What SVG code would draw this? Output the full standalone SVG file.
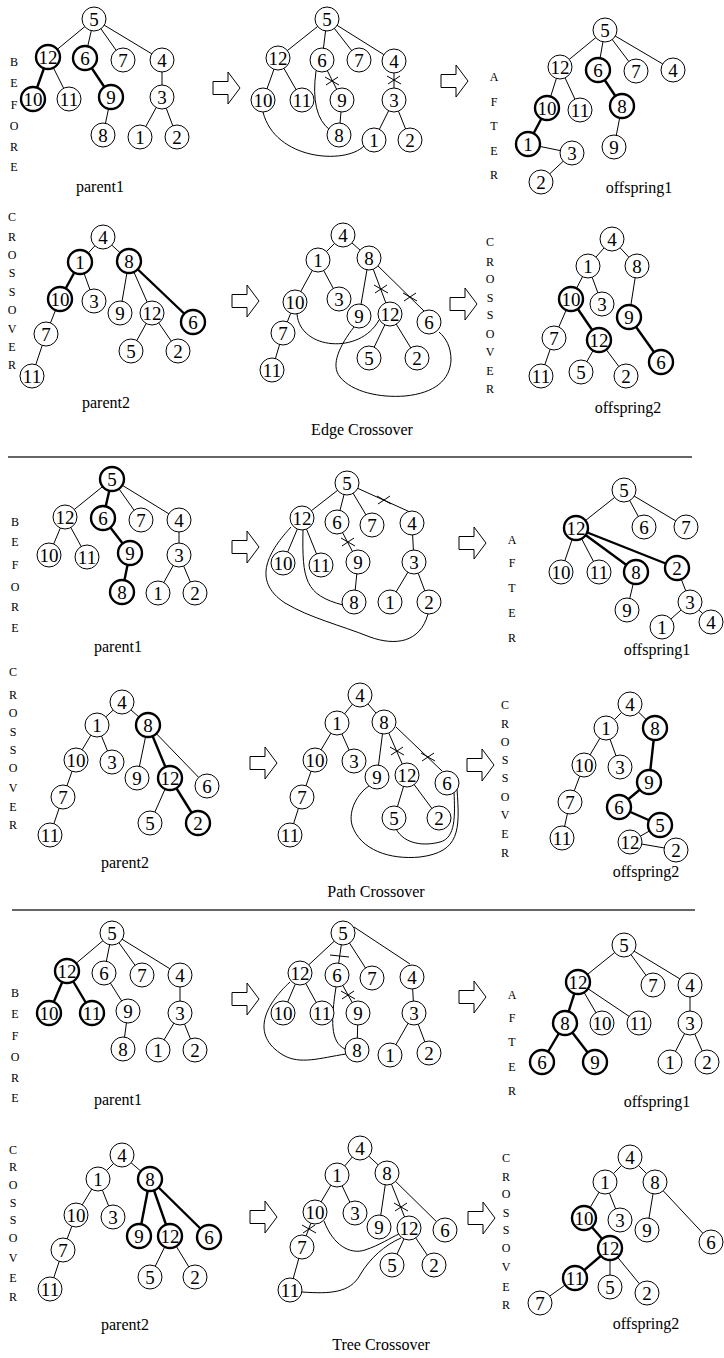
<svg xmlns="http://www.w3.org/2000/svg" xmlns:xlink="http://www.w3.org/1999/xlink" width="724" height="1358" viewBox="0 0 724 1358">
<style>
circle{fill:#fff;stroke:#000;stroke-width:1}
.b circle{stroke-width:2.4}
text{font-family:"Liberation Serif","Times New Roman",serif;fill:#000}
.n text{font-size:19px;text-anchor:middle;transform:translateY(1px)}
.c line,.c path{stroke:#000;stroke-width:1;fill:none}
.c .bl{stroke-width:2.4}
.lt{font-size:12px;text-anchor:middle}
.lab{font-size:16px;text-anchor:middle}
.sep{stroke:#333;stroke-width:1.3}
</style>
<defs>
<path id="arrow" d="M0,-6.5 H15 V-16 L27,0 L15,16 V6.5 H0 Z" fill="#fff" stroke="#000" stroke-width="1"/>
<path id="xm" d="M-7,-4 L7,4 M-6,4 L6,-4" fill="none" stroke="#000" stroke-width="1"/>
</defs>
<rect width="724" height="1358" fill="#fff"/>
<line class="sep" x1="8" y1="457" x2="692" y2="457"/>
<line class="sep" x1="12" y1="910" x2="695" y2="910"/>
<g id="arrows">
<use xlink:href="#arrow" transform="translate(213,88)"/>
<use xlink:href="#arrow" transform="translate(441,81)"/>
<use xlink:href="#arrow" transform="translate(232,301)"/>
<use xlink:href="#arrow" transform="translate(450,304)"/>
<use xlink:href="#arrow" transform="translate(232,547)"/>
<use xlink:href="#arrow" transform="translate(459,543)"/>
<use xlink:href="#arrow" transform="translate(250,763)"/>
<use xlink:href="#arrow" transform="translate(467,765)"/>
<use xlink:href="#arrow" transform="translate(232,999)"/>
<use xlink:href="#arrow" transform="translate(459,997)"/>
<use xlink:href="#arrow" transform="translate(250,1217)"/>
<use xlink:href="#arrow" transform="translate(468,1218)"/>
</g>
<g id="connectors" class="c">
<line x1="94" y1="19" x2="48" y2="57"/><line x1="94" y1="19" x2="85" y2="58"/><line x1="94" y1="19" x2="123" y2="60"/><line x1="94" y1="19" x2="162" y2="60"/>
<line class="bl" x1="48" y1="57" x2="33" y2="99"/><line x1="48" y1="57" x2="69" y2="99"/><line class="bl" x1="85" y1="58" x2="111" y2="97"/><line x1="111" y1="97" x2="103" y2="135"/>
<line x1="162" y1="60" x2="162" y2="97"/><line x1="162" y1="97" x2="140" y2="137"/><line x1="162" y1="97" x2="177" y2="137"/>
<line x1="327" y1="19" x2="278" y2="58"/><line x1="327" y1="19" x2="322" y2="60"/><line x1="327" y1="19" x2="359" y2="60"/><line x1="327" y1="19" x2="394" y2="61"/>
<line x1="278" y1="58" x2="263" y2="100"/><line x1="278" y1="58" x2="302" y2="100"/><line x1="322" y1="60" x2="342" y2="100"/><line x1="342" y1="100" x2="339" y2="135"/>
<line x1="394" y1="61" x2="394" y2="100"/><line x1="394" y1="100" x2="374" y2="140"/><line x1="394" y1="100" x2="410" y2="140"/>
<path d="M263,112 C275,160 345,165 364,146"/>
<path d="M316,71 Q310,115 330,130"/>
<use xlink:href="#xm" x="332" y="81"/><use xlink:href="#xm" x="394" y="80"/>
<line x1="605" y1="30" x2="560" y2="67"/><line x1="605" y1="30" x2="598" y2="70"/><line x1="605" y1="30" x2="636" y2="71"/><line x1="605" y1="30" x2="673" y2="70"/>
<line x1="560" y1="67" x2="547" y2="108"/><line x1="560" y1="67" x2="580" y2="110"/><line class="bl" x1="598" y1="70" x2="622" y2="106"/><line x1="622" y1="106" x2="614" y2="147"/>
<line class="bl" x1="547" y1="108" x2="528" y2="144"/><line x1="528" y1="144" x2="572" y2="153"/><line x1="572" y1="153" x2="541" y2="182"/>
<line x1="103" y1="237" x2="80" y2="262"/><line x1="103" y1="237" x2="129" y2="261"/><line class="bl" x1="80" y1="262" x2="60" y2="299"/><line x1="80" y1="262" x2="94" y2="301"/>
<line x1="129" y1="261" x2="120" y2="313"/><line x1="129" y1="261" x2="152" y2="313"/><line class="bl" x1="129" y1="261" x2="193" y2="322"/>
<line x1="60" y1="299" x2="46" y2="334"/><line x1="46" y1="334" x2="32" y2="376"/><line x1="152" y1="313" x2="131" y2="351"/><line x1="152" y1="313" x2="178" y2="351"/>
<line x1="343" y1="235" x2="318" y2="260"/><line x1="343" y1="235" x2="369" y2="258"/><line x1="318" y1="260" x2="295" y2="302"/><line x1="318" y1="260" x2="339" y2="299"/>
<line x1="369" y1="258" x2="359" y2="316"/><line x1="369" y1="258" x2="390" y2="314"/><line x1="376" y1="264" x2="424" y2="311"/>
<line x1="295" y1="302" x2="283" y2="333"/><line x1="283" y1="333" x2="272" y2="370"/><line x1="390" y1="314" x2="369" y2="358"/><line x1="390" y1="314" x2="417" y2="358"/>
<path d="M297,314 C300,350 360,355 379,320"/>
<path d="M354,327 C340,345 330,365 340,377 C352,392 380,398 405,396 C435,393 450,380 451,360 C451,347 446,338 439,332"/>
<use xlink:href="#xm" x="381" y="289"/><use xlink:href="#xm" x="410" y="297"/>
<line x1="612" y1="239" x2="588" y2="266"/><line x1="612" y1="239" x2="637" y2="266"/><line x1="588" y1="266" x2="571" y2="299"/><line x1="588" y1="266" x2="602" y2="304"/>
<line x1="637" y1="266" x2="629" y2="317"/><line x1="571" y1="299" x2="554" y2="338"/><line class="bl" x1="571" y1="299" x2="599" y2="340"/><line x1="554" y1="338" x2="541" y2="376"/>
<line x1="599" y1="340" x2="581" y2="372"/><line x1="599" y1="340" x2="626" y2="376"/><line class="bl" x1="629" y1="317" x2="661" y2="362"/>
<line x1="112" y1="479" x2="65" y2="517"/><line class="bl" x1="112" y1="479" x2="103" y2="518"/><line x1="112" y1="479" x2="141" y2="520"/><line x1="112" y1="479" x2="179" y2="520"/>
<line x1="65" y1="517" x2="49" y2="555"/><line x1="65" y1="517" x2="87" y2="557"/><line class="bl" x1="103" y1="518" x2="130" y2="553"/><line class="bl" x1="130" y1="553" x2="122" y2="592"/>
<line x1="179" y1="520" x2="179" y2="555"/><line x1="179" y1="555" x2="158" y2="593"/><line x1="179" y1="555" x2="195" y2="593"/>
<line x1="347" y1="483" x2="302" y2="518"/><line x1="347" y1="483" x2="337" y2="522"/><line x1="347" y1="483" x2="372" y2="525"/><line x1="357" y1="488" x2="410" y2="512"/>
<line x1="302" y1="518" x2="283" y2="563"/><line x1="302" y1="518" x2="321" y2="565"/><line x1="337" y1="522" x2="358" y2="562"/><line x1="358" y1="562" x2="354" y2="602"/>
<line x1="412" y1="523" x2="414" y2="562"/><line x1="414" y1="562" x2="390" y2="602"/><line x1="414" y1="562" x2="429" y2="602"/>
<path d="M303,530 C302,580 305,595 343,605"/>
<path d="M291,527 C270,550 250,580 285,603 C310,618 340,625 370,637 C395,646 420,643 428,614"/>
<use xlink:href="#xm" x="384" y="500"/><use xlink:href="#xm" x="348" y="542"/>
<line x1="624" y1="490" x2="576" y2="528"/><line x1="624" y1="490" x2="644" y2="527"/><line x1="624" y1="490" x2="686" y2="527"/>
<line x1="576" y1="528" x2="561" y2="572"/><line x1="576" y1="528" x2="599" y2="572"/><line class="bl" x1="576" y1="528" x2="636" y2="572"/><line class="bl" x1="576" y1="528" x2="677" y2="568"/>
<line x1="636" y1="572" x2="627" y2="610"/><line x1="677" y1="568" x2="690" y2="602"/><line x1="690" y1="602" x2="662" y2="627"/><line x1="690" y1="602" x2="712" y2="622"/>
<line x1="122" y1="702" x2="97" y2="725"/><line x1="122" y1="702" x2="148" y2="725"/><line x1="97" y1="725" x2="76" y2="760"/><line x1="97" y1="725" x2="112" y2="762"/>
<line x1="148" y1="725" x2="137" y2="778"/><line class="bl" x1="148" y1="725" x2="170" y2="778"/><line x1="148" y1="725" x2="207" y2="786"/>
<line x1="76" y1="760" x2="63" y2="797"/><line x1="63" y1="797" x2="50" y2="835"/><line x1="170" y1="778" x2="150" y2="823"/><line class="bl" x1="170" y1="778" x2="198" y2="823"/>
<line x1="360" y1="695" x2="337" y2="723"/><line x1="360" y1="695" x2="384" y2="722"/><line x1="337" y1="723" x2="315" y2="760"/><line x1="337" y1="723" x2="354" y2="761"/>
<line x1="384" y1="722" x2="377" y2="777"/><line x1="384" y1="722" x2="407" y2="775"/><line x1="396" y1="727" x2="442" y2="771"/>
<line x1="315" y1="760" x2="302" y2="797"/><line x1="302" y1="797" x2="290" y2="835"/><line x1="407" y1="775" x2="394" y2="818"/><line x1="407" y1="775" x2="439" y2="818"/>
<path d="M454,792 C455,815 456,838 440,842 C425,846 405,845 396,829"/>
<path d="M457,789 C460,830 460,852 420,857 C390,860 360,850 352,825 C348,810 358,793 369,786"/>
<use xlink:href="#xm" x="397" y="751"/><use xlink:href="#xm" x="428" y="757"/>
<line x1="630" y1="704" x2="606" y2="728"/><line x1="630" y1="704" x2="655" y2="728"/><line x1="606" y1="728" x2="584" y2="765"/><line x1="606" y1="728" x2="620" y2="767"/>
<line x1="584" y1="765" x2="570" y2="802"/><line x1="570" y1="802" x2="562" y2="838"/><line class="bl" x1="655" y1="728" x2="649" y2="782"/><line class="bl" x1="649" y1="782" x2="619" y2="807"/>
<line class="bl" x1="619" y1="807" x2="660" y2="825"/><line x1="630" y1="842" x2="660" y2="825"/><line x1="630" y1="842" x2="676" y2="850"/>
<line x1="112" y1="933" x2="67" y2="971"/><line x1="112" y1="933" x2="104" y2="973"/><line x1="112" y1="933" x2="142" y2="975"/><line x1="112" y1="933" x2="180" y2="975"/>
<line class="bl" x1="67" y1="971" x2="49" y2="1013"/><line class="bl" x1="67" y1="971" x2="92" y2="1013"/><line x1="104" y1="973" x2="128" y2="1011"/><line x1="128" y1="1011" x2="123" y2="1049"/>
<line x1="180" y1="975" x2="180" y2="1013"/><line x1="180" y1="1013" x2="158" y2="1050"/><line x1="180" y1="1013" x2="195" y2="1050"/>
<line x1="343" y1="933" x2="300" y2="973"/><line x1="343" y1="933" x2="337" y2="975"/><line x1="343" y1="933" x2="372" y2="978"/><line x1="354" y1="927" x2="410" y2="964"/>
<line x1="300" y1="973" x2="283" y2="1013"/><line x1="300" y1="973" x2="322" y2="1013"/><line x1="337" y1="975" x2="358" y2="1013"/><line x1="358" y1="1013" x2="357" y2="1050"/>
<line x1="412" y1="977" x2="414" y2="1013"/><line x1="414" y1="1013" x2="390" y2="1055"/><line x1="414" y1="1013" x2="429" y2="1053"/>
<path d="M336,987 C331,1020 330,1042 345,1049"/>
<path d="M290,982 C265,1005 250,1035 283,1055 C300,1065 320,1058 346,1054"/>
<path d="M330,955 L349,957"/><use xlink:href="#xm" x="348" y="995"/>
<line x1="624" y1="945" x2="578" y2="982"/><line x1="624" y1="945" x2="653" y2="985"/><line x1="624" y1="945" x2="690" y2="985"/>
<line class="bl" x1="578" y1="982" x2="565" y2="1023"/><line x1="578" y1="982" x2="602" y2="1023"/><line x1="578" y1="982" x2="639" y2="1023"/>
<line x1="690" y1="985" x2="690" y2="1023"/><line x1="690" y1="1023" x2="670" y2="1062"/><line x1="690" y1="1023" x2="707" y2="1062"/>
<line class="bl" x1="565" y1="1023" x2="542" y2="1062"/><line class="bl" x1="565" y1="1023" x2="595" y2="1062"/>
<line x1="122" y1="1155" x2="98" y2="1179"/><line x1="122" y1="1155" x2="150" y2="1179"/><line x1="98" y1="1179" x2="76" y2="1215"/><line x1="98" y1="1179" x2="113" y2="1217"/>
<line class="bl" x1="150" y1="1179" x2="139" y2="1236"/><line class="bl" x1="150" y1="1179" x2="170" y2="1236"/><line class="bl" x1="150" y1="1179" x2="209" y2="1237"/>
<line x1="76" y1="1215" x2="63" y2="1250"/><line x1="63" y1="1250" x2="50" y2="1289"/><line x1="170" y1="1236" x2="150" y2="1277"/><line x1="170" y1="1236" x2="195" y2="1277"/>
<line x1="360" y1="1148" x2="337" y2="1175"/><line x1="360" y1="1148" x2="387" y2="1173"/><line x1="337" y1="1175" x2="315" y2="1212"/><line x1="337" y1="1175" x2="355" y2="1213"/>
<line x1="387" y1="1173" x2="379" y2="1227"/><line x1="387" y1="1173" x2="409" y2="1228"/><line x1="387" y1="1173" x2="445" y2="1230"/>
<line x1="315" y1="1212" x2="302" y2="1247"/><line x1="302" y1="1247" x2="290" y2="1290"/><line x1="409" y1="1228" x2="392" y2="1265"/><line x1="409" y1="1228" x2="434" y2="1265"/>
<path d="M324,1221 C333,1245 350,1255 365,1250 C380,1245 390,1238 399,1234"/>
<path d="M302,1292 C330,1294 350,1293 360,1275 C370,1258 385,1245 401,1238"/>
<use xlink:href="#xm" x="401" y="1207"/><use xlink:href="#xm" x="309" y="1229"/>
<line x1="630" y1="1157" x2="605" y2="1182"/><line x1="630" y1="1157" x2="655" y2="1182"/><line x1="605" y1="1182" x2="584" y2="1218"/><line x1="605" y1="1182" x2="620" y2="1220"/>
<line x1="655" y1="1182" x2="647" y2="1230"/><line x1="655" y1="1182" x2="711" y2="1242"/><line class="bl" x1="584" y1="1218" x2="610" y2="1248"/><line class="bl" x1="610" y1="1248" x2="575" y2="1278"/>
<line x1="610" y1="1248" x2="610" y2="1287"/><line x1="610" y1="1248" x2="647" y2="1293"/><line x1="575" y1="1278" x2="540" y2="1303"/>
</g>
<g id="s1a-5" class="n"><circle cx="94" cy="19" r="12"/><text x="94" y="25">5</text></g>
<g id="s1a-12" class="n b"><circle cx="48" cy="57" r="12"/><text x="48" y="63">12</text></g>
<g id="s1a-6" class="n b"><circle cx="85" cy="58" r="12"/><text x="85" y="64">6</text></g>
<g id="s1a-7" class="n"><circle cx="123" cy="60" r="12"/><text x="123" y="66">7</text></g>
<g id="s1a-4" class="n"><circle cx="162" cy="60" r="12"/><text x="162" y="66">4</text></g>
<g id="s1a-10" class="n b"><circle cx="33" cy="99" r="12"/><text x="33" y="105">10</text></g>
<g id="s1a-11" class="n"><circle cx="69" cy="99" r="12"/><text x="69" y="105">11</text></g>
<g id="s1a-9" class="n b"><circle cx="111" cy="97" r="12"/><text x="111" y="103">9</text></g>
<g id="s1a-3" class="n"><circle cx="162" cy="97" r="12"/><text x="162" y="103">3</text></g>
<g id="s1a-8" class="n"><circle cx="103" cy="135" r="12"/><text x="103" y="141">8</text></g>
<g id="s1a-1" class="n"><circle cx="140" cy="137" r="12"/><text x="140" y="143">1</text></g>
<g id="s1a-2" class="n"><circle cx="177" cy="137" r="12"/><text x="177" y="143">2</text></g>
<g id="s1b-5" class="n"><circle cx="327" cy="19" r="12"/><text x="327" y="25">5</text></g>
<g id="s1b-12" class="n"><circle cx="278" cy="58" r="12"/><text x="278" y="64">12</text></g>
<g id="s1b-6" class="n"><circle cx="322" cy="60" r="12"/><text x="322" y="66">6</text></g>
<g id="s1b-7" class="n"><circle cx="359" cy="60" r="12"/><text x="359" y="66">7</text></g>
<g id="s1b-4" class="n"><circle cx="394" cy="61" r="12"/><text x="394" y="67">4</text></g>
<g id="s1b-10" class="n"><circle cx="263" cy="100" r="12"/><text x="263" y="106">10</text></g>
<g id="s1b-11" class="n"><circle cx="302" cy="100" r="12"/><text x="302" y="106">11</text></g>
<g id="s1b-9" class="n"><circle cx="342" cy="100" r="12"/><text x="342" y="106">9</text></g>
<g id="s1b-3" class="n"><circle cx="394" cy="100" r="12"/><text x="394" y="106">3</text></g>
<g id="s1b-8" class="n"><circle cx="339" cy="135" r="12"/><text x="339" y="141">8</text></g>
<g id="s1b-1" class="n"><circle cx="374" cy="140" r="12"/><text x="374" y="146">1</text></g>
<g id="s1b-2" class="n"><circle cx="410" cy="140" r="12"/><text x="410" y="146">2</text></g>
<g id="s1c-5" class="n"><circle cx="605" cy="30" r="12"/><text x="605" y="36">5</text></g>
<g id="s1c-12" class="n"><circle cx="560" cy="67" r="12"/><text x="560" y="73">12</text></g>
<g id="s1c-6" class="n b"><circle cx="598" cy="70" r="12"/><text x="598" y="76">6</text></g>
<g id="s1c-7" class="n"><circle cx="636" cy="71" r="12"/><text x="636" y="77">7</text></g>
<g id="s1c-4" class="n"><circle cx="673" cy="70" r="12"/><text x="673" y="76">4</text></g>
<g id="s1c-10" class="n b"><circle cx="547" cy="108" r="12"/><text x="547" y="114">10</text></g>
<g id="s1c-11" class="n"><circle cx="580" cy="110" r="12"/><text x="580" y="116">11</text></g>
<g id="s1c-8" class="n b"><circle cx="622" cy="106" r="12"/><text x="622" y="112">8</text></g>
<g id="s1c-1" class="n b"><circle cx="528" cy="144" r="12"/><text x="528" y="150">1</text></g>
<g id="s1c-3" class="n"><circle cx="572" cy="153" r="12"/><text x="572" y="159">3</text></g>
<g id="s1c-9" class="n"><circle cx="614" cy="147" r="12"/><text x="614" y="153">9</text></g>
<g id="s1c-2" class="n"><circle cx="541" cy="182" r="12"/><text x="541" y="188">2</text></g>
<g id="s1d-4" class="n"><circle cx="103" cy="237" r="12"/><text x="103" y="243">4</text></g>
<g id="s1d-1" class="n b"><circle cx="80" cy="262" r="12"/><text x="80" y="268">1</text></g>
<g id="s1d-8" class="n b"><circle cx="129" cy="261" r="12"/><text x="129" y="267">8</text></g>
<g id="s1d-10" class="n b"><circle cx="60" cy="299" r="12"/><text x="60" y="305">10</text></g>
<g id="s1d-3" class="n"><circle cx="94" cy="301" r="12"/><text x="94" y="307">3</text></g>
<g id="s1d-9" class="n"><circle cx="120" cy="313" r="12"/><text x="120" y="319">9</text></g>
<g id="s1d-12" class="n"><circle cx="152" cy="313" r="12"/><text x="152" y="319">12</text></g>
<g id="s1d-6" class="n b"><circle cx="193" cy="322" r="12"/><text x="193" y="328">6</text></g>
<g id="s1d-7" class="n"><circle cx="46" cy="334" r="12"/><text x="46" y="340">7</text></g>
<g id="s1d-5" class="n"><circle cx="131" cy="351" r="12"/><text x="131" y="357">5</text></g>
<g id="s1d-2" class="n"><circle cx="178" cy="351" r="12"/><text x="178" y="357">2</text></g>
<g id="s1d-11" class="n"><circle cx="32" cy="376" r="12"/><text x="32" y="382">11</text></g>
<g id="s1e-4" class="n"><circle cx="343" cy="235" r="12"/><text x="343" y="241">4</text></g>
<g id="s1e-1" class="n"><circle cx="318" cy="260" r="12"/><text x="318" y="266">1</text></g>
<g id="s1e-8" class="n"><circle cx="369" cy="258" r="12"/><text x="369" y="264">8</text></g>
<g id="s1e-10" class="n"><circle cx="295" cy="302" r="12"/><text x="295" y="308">10</text></g>
<g id="s1e-3" class="n"><circle cx="339" cy="299" r="12"/><text x="339" y="305">3</text></g>
<g id="s1e-9" class="n"><circle cx="359" cy="316" r="12"/><text x="359" y="322">9</text></g>
<g id="s1e-12" class="n"><circle cx="390" cy="314" r="12"/><text x="390" y="320">12</text></g>
<g id="s1e-6" class="n"><circle cx="429" cy="322" r="12"/><text x="429" y="328">6</text></g>
<g id="s1e-7" class="n"><circle cx="283" cy="333" r="12"/><text x="283" y="339">7</text></g>
<g id="s1e-11" class="n"><circle cx="272" cy="370" r="12"/><text x="272" y="376">11</text></g>
<g id="s1e-5" class="n"><circle cx="369" cy="358" r="12"/><text x="369" y="364">5</text></g>
<g id="s1e-2" class="n"><circle cx="417" cy="358" r="12"/><text x="417" y="364">2</text></g>
<g id="s1f-4" class="n"><circle cx="612" cy="239" r="12"/><text x="612" y="245">4</text></g>
<g id="s1f-1" class="n"><circle cx="588" cy="266" r="12"/><text x="588" y="272">1</text></g>
<g id="s1f-8" class="n"><circle cx="637" cy="266" r="12"/><text x="637" y="272">8</text></g>
<g id="s1f-10" class="n b"><circle cx="571" cy="299" r="12"/><text x="571" y="305">10</text></g>
<g id="s1f-3" class="n"><circle cx="602" cy="304" r="12"/><text x="602" y="310">3</text></g>
<g id="s1f-9" class="n b"><circle cx="629" cy="317" r="12"/><text x="629" y="323">9</text></g>
<g id="s1f-7" class="n"><circle cx="554" cy="338" r="12"/><text x="554" y="344">7</text></g>
<g id="s1f-12" class="n b"><circle cx="599" cy="340" r="12"/><text x="599" y="346">12</text></g>
<g id="s1f-6" class="n b"><circle cx="661" cy="362" r="12"/><text x="661" y="368">6</text></g>
<g id="s1f-11" class="n"><circle cx="541" cy="376" r="12"/><text x="541" y="382">11</text></g>
<g id="s1f-5" class="n"><circle cx="581" cy="372" r="12"/><text x="581" y="378">5</text></g>
<g id="s1f-2" class="n"><circle cx="626" cy="376" r="12"/><text x="626" y="382">2</text></g>
<g id="s2a-5" class="n b"><circle cx="112" cy="479" r="12"/><text x="112" y="485">5</text></g>
<g id="s2a-12" class="n"><circle cx="65" cy="517" r="12"/><text x="65" y="523">12</text></g>
<g id="s2a-6" class="n b"><circle cx="103" cy="518" r="12"/><text x="103" y="524">6</text></g>
<g id="s2a-7" class="n"><circle cx="141" cy="520" r="12"/><text x="141" y="526">7</text></g>
<g id="s2a-4" class="n"><circle cx="179" cy="520" r="12"/><text x="179" y="526">4</text></g>
<g id="s2a-10" class="n"><circle cx="49" cy="555" r="12"/><text x="49" y="561">10</text></g>
<g id="s2a-11" class="n"><circle cx="87" cy="557" r="12"/><text x="87" y="563">11</text></g>
<g id="s2a-9" class="n b"><circle cx="130" cy="553" r="12"/><text x="130" y="559">9</text></g>
<g id="s2a-3" class="n"><circle cx="179" cy="555" r="12"/><text x="179" y="561">3</text></g>
<g id="s2a-8" class="n b"><circle cx="122" cy="592" r="12"/><text x="122" y="598">8</text></g>
<g id="s2a-1" class="n"><circle cx="158" cy="593" r="12"/><text x="158" y="599">1</text></g>
<g id="s2a-2" class="n"><circle cx="195" cy="593" r="12"/><text x="195" y="599">2</text></g>
<g id="s2b-5" class="n"><circle cx="347" cy="483" r="12"/><text x="347" y="489">5</text></g>
<g id="s2b-12" class="n"><circle cx="302" cy="518" r="12"/><text x="302" y="524">12</text></g>
<g id="s2b-6" class="n"><circle cx="337" cy="522" r="12"/><text x="337" y="528">6</text></g>
<g id="s2b-7" class="n"><circle cx="372" cy="525" r="12"/><text x="372" y="531">7</text></g>
<g id="s2b-4" class="n"><circle cx="412" cy="523" r="12"/><text x="412" y="529">4</text></g>
<g id="s2b-10" class="n"><circle cx="283" cy="563" r="12"/><text x="283" y="569">10</text></g>
<g id="s2b-11" class="n"><circle cx="321" cy="565" r="12"/><text x="321" y="571">11</text></g>
<g id="s2b-9" class="n"><circle cx="358" cy="562" r="12"/><text x="358" y="568">9</text></g>
<g id="s2b-3" class="n"><circle cx="414" cy="562" r="12"/><text x="414" y="568">3</text></g>
<g id="s2b-8" class="n"><circle cx="354" cy="602" r="12"/><text x="354" y="608">8</text></g>
<g id="s2b-1" class="n"><circle cx="390" cy="602" r="12"/><text x="390" y="608">1</text></g>
<g id="s2b-2" class="n"><circle cx="429" cy="602" r="12"/><text x="429" y="608">2</text></g>
<g id="s2c-5" class="n"><circle cx="624" cy="490" r="12"/><text x="624" y="496">5</text></g>
<g id="s2c-12" class="n b"><circle cx="576" cy="528" r="12"/><text x="576" y="534">12</text></g>
<g id="s2c-6" class="n"><circle cx="644" cy="527" r="12"/><text x="644" y="533">6</text></g>
<g id="s2c-7" class="n"><circle cx="686" cy="527" r="12"/><text x="686" y="533">7</text></g>
<g id="s2c-10" class="n"><circle cx="561" cy="572" r="12"/><text x="561" y="578">10</text></g>
<g id="s2c-11" class="n"><circle cx="599" cy="572" r="12"/><text x="599" y="578">11</text></g>
<g id="s2c-8" class="n b"><circle cx="636" cy="572" r="12"/><text x="636" y="578">8</text></g>
<g id="s2c-2" class="n b"><circle cx="677" cy="568" r="12"/><text x="677" y="574">2</text></g>
<g id="s2c-9" class="n"><circle cx="627" cy="610" r="12"/><text x="627" y="616">9</text></g>
<g id="s2c-3" class="n"><circle cx="690" cy="602" r="12"/><text x="690" y="608">3</text></g>
<g id="s2c-1" class="n"><circle cx="662" cy="627" r="12"/><text x="662" y="633">1</text></g>
<g id="s2c-4" class="n"><circle cx="711" cy="622" r="12"/><text x="711" y="628">4</text></g>
<g id="s2d-4" class="n"><circle cx="122" cy="702" r="12"/><text x="122" y="708">4</text></g>
<g id="s2d-1" class="n"><circle cx="97" cy="725" r="12"/><text x="97" y="731">1</text></g>
<g id="s2d-8" class="n b"><circle cx="148" cy="725" r="12"/><text x="148" y="731">8</text></g>
<g id="s2d-10" class="n"><circle cx="76" cy="760" r="12"/><text x="76" y="766">10</text></g>
<g id="s2d-3" class="n"><circle cx="112" cy="762" r="12"/><text x="112" y="768">3</text></g>
<g id="s2d-9" class="n"><circle cx="137" cy="778" r="12"/><text x="137" y="784">9</text></g>
<g id="s2d-12" class="n b"><circle cx="170" cy="778" r="12"/><text x="170" y="784">12</text></g>
<g id="s2d-6" class="n"><circle cx="207" cy="786" r="12"/><text x="207" y="792">6</text></g>
<g id="s2d-7" class="n"><circle cx="63" cy="797" r="12"/><text x="63" y="803">7</text></g>
<g id="s2d-5" class="n"><circle cx="150" cy="823" r="12"/><text x="150" y="829">5</text></g>
<g id="s2d-2" class="n b"><circle cx="198" cy="823" r="12"/><text x="198" y="829">2</text></g>
<g id="s2d-11" class="n"><circle cx="50" cy="835" r="12"/><text x="50" y="841">11</text></g>
<g id="s2e-4" class="n"><circle cx="360" cy="695" r="12"/><text x="360" y="701">4</text></g>
<g id="s2e-1" class="n"><circle cx="337" cy="723" r="12"/><text x="337" y="729">1</text></g>
<g id="s2e-8" class="n"><circle cx="384" cy="722" r="12"/><text x="384" y="728">8</text></g>
<g id="s2e-10" class="n"><circle cx="315" cy="760" r="12"/><text x="315" y="766">10</text></g>
<g id="s2e-3" class="n"><circle cx="354" cy="761" r="12"/><text x="354" y="767">3</text></g>
<g id="s2e-9" class="n"><circle cx="377" cy="777" r="12"/><text x="377" y="783">9</text></g>
<g id="s2e-12" class="n"><circle cx="407" cy="775" r="12"/><text x="407" y="781">12</text></g>
<g id="s2e-6" class="n"><circle cx="447" cy="783" r="12"/><text x="447" y="789">6</text></g>
<g id="s2e-7" class="n"><circle cx="302" cy="797" r="12"/><text x="302" y="803">7</text></g>
<g id="s2e-11" class="n"><circle cx="290" cy="835" r="12"/><text x="290" y="841">11</text></g>
<g id="s2e-5" class="n"><circle cx="394" cy="818" r="12"/><text x="394" y="824">5</text></g>
<g id="s2e-2" class="n"><circle cx="439" cy="818" r="12"/><text x="439" y="824">2</text></g>
<g id="s2f-4" class="n"><circle cx="630" cy="704" r="12"/><text x="630" y="710">4</text></g>
<g id="s2f-1" class="n"><circle cx="606" cy="728" r="12"/><text x="606" y="734">1</text></g>
<g id="s2f-8" class="n b"><circle cx="655" cy="728" r="12"/><text x="655" y="734">8</text></g>
<g id="s2f-10" class="n"><circle cx="584" cy="765" r="12"/><text x="584" y="771">10</text></g>
<g id="s2f-3" class="n"><circle cx="620" cy="767" r="12"/><text x="620" y="773">3</text></g>
<g id="s2f-9" class="n b"><circle cx="649" cy="782" r="12"/><text x="649" y="788">9</text></g>
<g id="s2f-7" class="n"><circle cx="570" cy="802" r="12"/><text x="570" y="808">7</text></g>
<g id="s2f-6" class="n b"><circle cx="619" cy="807" r="12"/><text x="619" y="813">6</text></g>
<g id="s2f-5" class="n b"><circle cx="660" cy="825" r="12"/><text x="660" y="831">5</text></g>
<g id="s2f-11" class="n"><circle cx="562" cy="838" r="12"/><text x="562" y="844">11</text></g>
<g id="s2f-12" class="n"><circle cx="630" cy="842" r="12"/><text x="630" y="848">12</text></g>
<g id="s2f-2" class="n"><circle cx="676" cy="850" r="12"/><text x="676" y="856">2</text></g>
<g id="s3a-5" class="n"><circle cx="112" cy="933" r="12"/><text x="112" y="939">5</text></g>
<g id="s3a-12" class="n b"><circle cx="67" cy="971" r="12"/><text x="67" y="977">12</text></g>
<g id="s3a-6" class="n"><circle cx="104" cy="973" r="12"/><text x="104" y="979">6</text></g>
<g id="s3a-7" class="n"><circle cx="142" cy="975" r="12"/><text x="142" y="981">7</text></g>
<g id="s3a-4" class="n"><circle cx="180" cy="975" r="12"/><text x="180" y="981">4</text></g>
<g id="s3a-10" class="n b"><circle cx="49" cy="1013" r="12"/><text x="49" y="1019">10</text></g>
<g id="s3a-11" class="n b"><circle cx="92" cy="1013" r="12"/><text x="92" y="1019">11</text></g>
<g id="s3a-9" class="n"><circle cx="128" cy="1011" r="12"/><text x="128" y="1017">9</text></g>
<g id="s3a-3" class="n"><circle cx="180" cy="1013" r="12"/><text x="180" y="1019">3</text></g>
<g id="s3a-8" class="n"><circle cx="123" cy="1049" r="12"/><text x="123" y="1055">8</text></g>
<g id="s3a-1" class="n"><circle cx="158" cy="1050" r="12"/><text x="158" y="1056">1</text></g>
<g id="s3a-2" class="n"><circle cx="195" cy="1050" r="12"/><text x="195" y="1056">2</text></g>
<g id="s3b-5" class="n"><circle cx="343" cy="933" r="12"/><text x="343" y="939">5</text></g>
<g id="s3b-12" class="n"><circle cx="300" cy="973" r="12"/><text x="300" y="979">12</text></g>
<g id="s3b-6" class="n"><circle cx="337" cy="975" r="12"/><text x="337" y="981">6</text></g>
<g id="s3b-7" class="n"><circle cx="372" cy="978" r="12"/><text x="372" y="984">7</text></g>
<g id="s3b-4" class="n"><circle cx="412" cy="977" r="12"/><text x="412" y="983">4</text></g>
<g id="s3b-10" class="n"><circle cx="283" cy="1013" r="12"/><text x="283" y="1019">10</text></g>
<g id="s3b-11" class="n"><circle cx="322" cy="1013" r="12"/><text x="322" y="1019">11</text></g>
<g id="s3b-9" class="n"><circle cx="358" cy="1013" r="12"/><text x="358" y="1019">9</text></g>
<g id="s3b-3" class="n"><circle cx="414" cy="1013" r="12"/><text x="414" y="1019">3</text></g>
<g id="s3b-8" class="n"><circle cx="357" cy="1050" r="12"/><text x="357" y="1056">8</text></g>
<g id="s3b-1" class="n"><circle cx="390" cy="1055" r="12"/><text x="390" y="1061">1</text></g>
<g id="s3b-2" class="n"><circle cx="429" cy="1053" r="12"/><text x="429" y="1059">2</text></g>
<g id="s3c-5" class="n"><circle cx="624" cy="945" r="12"/><text x="624" y="951">5</text></g>
<g id="s3c-12" class="n b"><circle cx="578" cy="982" r="12"/><text x="578" y="988">12</text></g>
<g id="s3c-7" class="n"><circle cx="653" cy="985" r="12"/><text x="653" y="991">7</text></g>
<g id="s3c-4" class="n"><circle cx="690" cy="985" r="12"/><text x="690" y="991">4</text></g>
<g id="s3c-8" class="n b"><circle cx="565" cy="1023" r="12"/><text x="565" y="1029">8</text></g>
<g id="s3c-10" class="n"><circle cx="602" cy="1023" r="12"/><text x="602" y="1029">10</text></g>
<g id="s3c-11" class="n"><circle cx="639" cy="1023" r="12"/><text x="639" y="1029">11</text></g>
<g id="s3c-3" class="n"><circle cx="690" cy="1023" r="12"/><text x="690" y="1029">3</text></g>
<g id="s3c-6" class="n b"><circle cx="542" cy="1062" r="12"/><text x="542" y="1068">6</text></g>
<g id="s3c-9" class="n b"><circle cx="595" cy="1062" r="12"/><text x="595" y="1068">9</text></g>
<g id="s3c-1" class="n"><circle cx="670" cy="1062" r="12"/><text x="670" y="1068">1</text></g>
<g id="s3c-2" class="n"><circle cx="707" cy="1062" r="12"/><text x="707" y="1068">2</text></g>
<g id="s3d-4" class="n"><circle cx="122" cy="1155" r="12"/><text x="122" y="1161">4</text></g>
<g id="s3d-1" class="n"><circle cx="98" cy="1179" r="12"/><text x="98" y="1185">1</text></g>
<g id="s3d-8" class="n b"><circle cx="150" cy="1179" r="12"/><text x="150" y="1185">8</text></g>
<g id="s3d-10" class="n"><circle cx="76" cy="1215" r="12"/><text x="76" y="1221">10</text></g>
<g id="s3d-3" class="n"><circle cx="113" cy="1217" r="12"/><text x="113" y="1223">3</text></g>
<g id="s3d-9" class="n b"><circle cx="139" cy="1236" r="12"/><text x="139" y="1242">9</text></g>
<g id="s3d-12" class="n b"><circle cx="170" cy="1236" r="12"/><text x="170" y="1242">12</text></g>
<g id="s3d-6" class="n b"><circle cx="209" cy="1237" r="12"/><text x="209" y="1243">6</text></g>
<g id="s3d-7" class="n"><circle cx="63" cy="1250" r="12"/><text x="63" y="1256">7</text></g>
<g id="s3d-5" class="n"><circle cx="150" cy="1277" r="12"/><text x="150" y="1283">5</text></g>
<g id="s3d-2" class="n"><circle cx="195" cy="1277" r="12"/><text x="195" y="1283">2</text></g>
<g id="s3d-11" class="n"><circle cx="50" cy="1289" r="12"/><text x="50" y="1295">11</text></g>
<g id="s3e-4" class="n"><circle cx="360" cy="1148" r="12"/><text x="360" y="1154">4</text></g>
<g id="s3e-1" class="n"><circle cx="337" cy="1175" r="12"/><text x="337" y="1181">1</text></g>
<g id="s3e-8" class="n"><circle cx="387" cy="1173" r="12"/><text x="387" y="1179">8</text></g>
<g id="s3e-10" class="n"><circle cx="315" cy="1212" r="12"/><text x="315" y="1218">10</text></g>
<g id="s3e-3" class="n"><circle cx="355" cy="1213" r="12"/><text x="355" y="1219">3</text></g>
<g id="s3e-9" class="n"><circle cx="379" cy="1227" r="12"/><text x="379" y="1233">9</text></g>
<g id="s3e-12" class="n"><circle cx="409" cy="1228" r="12"/><text x="409" y="1234">12</text></g>
<g id="s3e-6" class="n"><circle cx="445" cy="1230" r="12"/><text x="445" y="1236">6</text></g>
<g id="s3e-7" class="n"><circle cx="302" cy="1247" r="12"/><text x="302" y="1253">7</text></g>
<g id="s3e-11" class="n"><circle cx="290" cy="1290" r="12"/><text x="290" y="1296">11</text></g>
<g id="s3e-5" class="n"><circle cx="392" cy="1265" r="12"/><text x="392" y="1271">5</text></g>
<g id="s3e-2" class="n"><circle cx="434" cy="1265" r="12"/><text x="434" y="1271">2</text></g>
<g id="s3f-4" class="n"><circle cx="630" cy="1157" r="12"/><text x="630" y="1163">4</text></g>
<g id="s3f-1" class="n"><circle cx="605" cy="1182" r="12"/><text x="605" y="1188">1</text></g>
<g id="s3f-8" class="n"><circle cx="655" cy="1182" r="12"/><text x="655" y="1188">8</text></g>
<g id="s3f-10" class="n b"><circle cx="584" cy="1218" r="12"/><text x="584" y="1224">10</text></g>
<g id="s3f-3" class="n"><circle cx="620" cy="1220" r="12"/><text x="620" y="1226">3</text></g>
<g id="s3f-9" class="n"><circle cx="647" cy="1230" r="12"/><text x="647" y="1236">9</text></g>
<g id="s3f-6" class="n"><circle cx="711" cy="1242" r="12"/><text x="711" y="1248">6</text></g>
<g id="s3f-12" class="n b"><circle cx="610" cy="1248" r="12"/><text x="610" y="1254">12</text></g>
<g id="s3f-11" class="n b"><circle cx="575" cy="1278" r="12"/><text x="575" y="1284">11</text></g>
<g id="s3f-5" class="n"><circle cx="610" cy="1287" r="12"/><text x="610" y="1293">5</text></g>
<g id="s3f-2" class="n"><circle cx="647" cy="1293" r="12"/><text x="647" y="1299">2</text></g>
<g id="s3f-7" class="n"><circle cx="540" cy="1303" r="12"/><text x="540" y="1309">7</text></g>
<g id="letters" class="lt">
<text x="14" y="66">B</text><text x="14" y="87">E</text><text x="14" y="109">F</text><text x="14" y="130">O</text><text x="14" y="151">R</text><text x="14" y="171">E</text>
<text x="12" y="221">C</text><text x="12" y="241">R</text><text x="12" y="259">O</text><text x="12" y="277">S</text><text x="12" y="296">S</text><text x="12" y="314">O</text><text x="12" y="333">V</text><text x="12" y="351">E</text><text x="12" y="369">R</text>
<text x="494" y="81">A</text><text x="494" y="106">F</text><text x="494" y="130">T</text><text x="494" y="155">E</text><text x="494" y="179">R</text>
<text x="490" y="246">C</text><text x="490" y="266">R</text><text x="490" y="283">O</text><text x="490" y="302">S</text><text x="490" y="319">S</text><text x="490" y="338">O</text><text x="490" y="356">V</text><text x="490" y="375">E</text><text x="490" y="393">R</text>
<text x="15" y="526">B</text><text x="15" y="546">E</text><text x="15" y="569">F</text><text x="15" y="591">O</text><text x="15" y="611">R</text><text x="15" y="632">E</text>
<text x="13" y="676">C</text><text x="13" y="699">R</text><text x="13" y="717">O</text><text x="13" y="736">S</text><text x="13" y="754">S</text><text x="13" y="772">O</text><text x="13" y="792">V</text><text x="13" y="811">E</text><text x="13" y="829">R</text>
<text x="512" y="544">A</text><text x="512" y="567">F</text><text x="512" y="592">T</text><text x="512" y="617">E</text><text x="512" y="642">R</text>
<text x="505" y="709">C</text><text x="505" y="728">R</text><text x="505" y="746">O</text><text x="505" y="764">S</text><text x="505" y="782">S</text><text x="505" y="801">O</text><text x="505" y="819">V</text><text x="505" y="838">E</text><text x="505" y="857">R</text>
<text x="15" y="997">B</text><text x="15" y="1018">E</text><text x="15" y="1040">F</text><text x="15" y="1061">O</text><text x="15" y="1082">R</text><text x="15" y="1102">E</text>
<text x="13" y="1154">C</text><text x="13" y="1171">R</text><text x="13" y="1189">O</text><text x="13" y="1207">S</text><text x="13" y="1224">S</text><text x="13" y="1242">O</text><text x="13" y="1262">V</text><text x="13" y="1282">E</text><text x="13" y="1301">R</text>
<text x="512" y="999">A</text><text x="512" y="1022">F</text><text x="512" y="1046">T</text><text x="512" y="1071">E</text><text x="512" y="1095">R</text>
<text x="506" y="1162">C</text><text x="506" y="1181">R</text><text x="506" y="1198">O</text><text x="506" y="1217">S</text><text x="506" y="1234">S</text><text x="506" y="1252">O</text><text x="506" y="1271">V</text><text x="506" y="1291">E</text><text x="506" y="1309">R</text>
</g>
<g id="labels" class="lab">
<text x="100" y="192">parent1</text>
<text x="639" y="193">offspring1</text>
<text x="106" y="408">parent2</text>
<text x="628" y="413">offspring2</text>
<text x="362" y="435">Edge Crossover</text>
<text x="118" y="652">parent1</text>
<text x="657" y="655">offspring1</text>
<text x="125" y="868">parent2</text>
<text x="646" y="877">offspring2</text>
<text x="376" y="897">Path Crossover</text>
<text x="118" y="1105">parent1</text>
<text x="657" y="1107">offspring1</text>
<text x="125" y="1330">parent2</text>
<text x="646" y="1329">offspring2</text>
<text x="381" y="1350">Tree Crossover</text>
</g>
</svg>
